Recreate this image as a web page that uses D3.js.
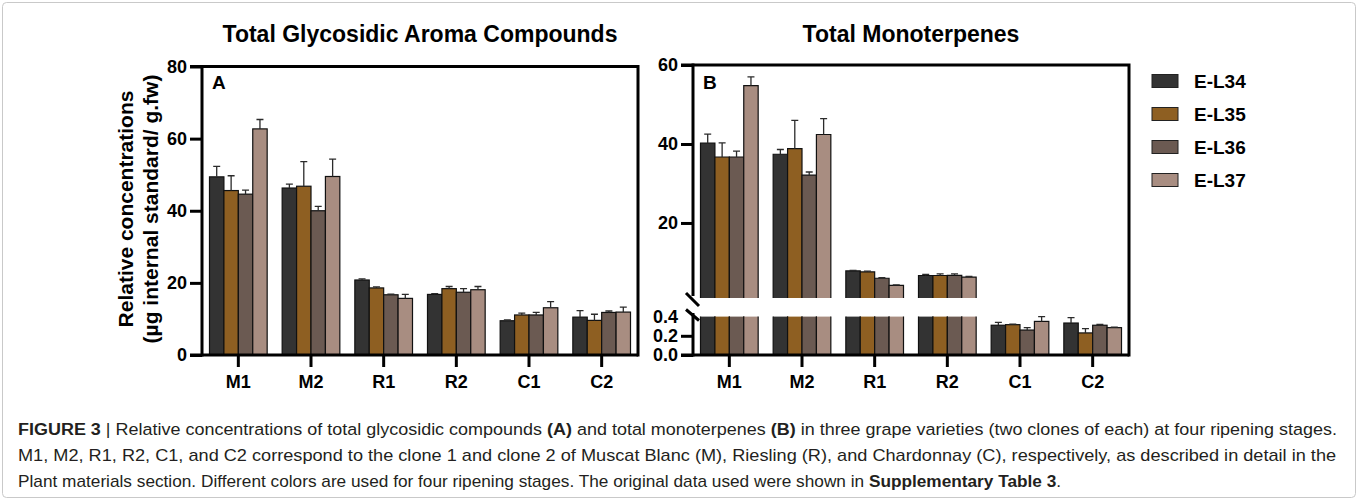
<!DOCTYPE html>
<html>
<head>
<meta charset="utf-8">
<script src="https://cdn.jsdelivr.net/npm/d3@7/dist/d3.min.js"></script>
<style>
  html, body { margin: 0; padding: 0; background: #fff; }
  svg { display: block; }
  text { font-family: "Liberation Sans", Arial, sans-serif; }
</style>
</head>
<body>
<svg id="fig" width="1358" height="500"></svg>
<script>
// Categories (grape clones) and ripening stages
const categories = ["M1", "M2", "R1", "R2", "C1", "C2"];
const stages = ["E-L34", "E-L35", "E-L36", "E-L37"];
const stageColors = ["#333333", "#8e5f22", "#6b5a52", "#a88d81"];

// Panel A: total glycosidic aroma compounds (mean, SD) per stage
const glyL34 = [49.4, 46.3, 20.8, 16.8, 9.5, 10.5];
const glyL34Sd = [2.9, 1.1, 0.3, 0.2, 0.2, 1.8];
const glyL35 = [45.6, 46.8, 18.6, 18.4, 11.1, 9.6];
const glyL35Sd = [4.1, 6.8, 0.3, 0.6, 0.5, 1.7];
const glyL36 = [44.6, 40.0, 16.7, 17.4, 11.1, 11.8];
const glyL36Sd = [1.1, 1.2, 0.2, 1.0, 0.7, 0.4];
const glyL37 = [62.7, 49.5, 15.7, 18.1, 13.1, 11.9];
const glyL37Sd = [2.6, 4.8, 1.1, 0.9, 1.7, 1.4];

// Panel B: total monoterpenes (mean, SD) per stage
const monoL34 = [40.2, 37.4, 7.85, 6.7, 0.31, 0.333];
const monoL34Sd = [2.3, 1.2, 0.15, 0.3, 0.03, 0.057];
const monoL35 = [36.7, 38.8, 7.6, 6.7, 0.316, 0.23];
const monoL35Sd = [3.6, 7.2, 0.2, 0.4, 0.005, 0.045];
const monoL36 = [36.7, 32.1, 6.0, 6.75, 0.26, 0.31];
const monoL36Sd = [1.5, 0.8, 0.15, 0.35, 0.025, 0.01];
const monoL37 = [54.8, 42.4, 4.2, 6.3, 0.35, 0.285];
const monoL37Sd = [2.2, 4.0, 0.1, 0.2, 0.05, 0.005];

// Axis tick values
const ticksA = [0, 20, 40, 60, 80];
const ticksBUpper = [20, 40, 60];
const ticksBLower = [0, 0.2, 0.4];

const legendLabels = stages;
const titleA = "Total Glycosidic Aroma Compounds";
const titleB = "Total Monoterpenes";
const yTitle1 = "Relative concentrations";
const yTitle2 = "(µg internal standard/ g.fw)";

const glyMeans = [glyL34, glyL35, glyL36, glyL37];
const glySds = [glyL34Sd, glyL35Sd, glyL36Sd, glyL37Sd];
const monoMeans = [monoL34, monoL35, monoL36, monoL37];
const monoSds = [monoL34Sd, monoL35Sd, monoL36Sd, monoL37Sd];

function rows(means, sds) {
  const out = [];
  categories.forEach((c, ci) => {
    stages.forEach((s, si) => {
      out.push({ cat: c, stage: s, si, v: means[si][ci], sd: sds[si][ci] });
    });
  });
  return out;
}

const svg = d3.select("#fig");

// Outer figure border
svg.append("rect")
  .attr("x", 2.5).attr("y", 2.5).attr("width", 1353).attr("height", 495)
  .attr("rx", 4).attr("fill", "none").attr("stroke", "#c9c9c9").attr("stroke-width", 1);

const baseY = 355;
const AX_W = 3;

function styleAxis(g) {
  g.selectAll("path.domain").attr("stroke", "#000").attr("stroke-width", AX_W);
  g.selectAll(".tick line").attr("stroke", "#000").attr("stroke-width", AX_W);
  g.selectAll(".tick text")
    .attr("fill", "#000")
    .style("font-family", "'Liberation Sans', Arial, sans-serif")
    .style("font-weight", "bold")
    .style("font-size", "18px");
}

function drawFrameCommon(left, right, top, xScale, title, letter) {
  // top and right frame lines
  svg.append("path")
    .attr("d", `M${left - 12},${top} H${right} V${baseY + 1.5}`)
    .attr("fill", "none").attr("stroke", "#000").attr("stroke-width", AX_W);
  // x axis
  const gx = svg.append("g")
    .attr("transform", `translate(0,${baseY})`)
    .call(d3.axisBottom(xScale).tickSize(12).tickSizeOuter(0).tickPadding(8));
  styleAxis(gx);
  gx.select("path.domain").attr("d", `M${left - 12},0H${right}`);
  // title
  svg.append("text")
    .attr("x", (left + right) / 2).attr("y", 42)
    .attr("text-anchor", "middle")
    .style("font-weight", "bold").style("font-size", "23px")
    .text(title);
  // panel letter
  svg.append("text")
    .attr("x", left + 10).attr("y", 89)
    .style("font-weight", "bold").style("font-size", "19px")
    .text(letter);
}

function errorBar(g, x, yBar, yTop) {
  g.append("path")
    .attr("d", `M${x},${yBar} V${yTop} M${x - 3.5},${yTop} H${x + 3.5}`)
    .attr("fill", "none").attr("stroke", "#2b2b2b").attr("stroke-width", 1.3);
}

// ---------- Panel A ----------
{
  const left = 202, right = 638;
  const x0 = d3.scaleBand().domain(categories).range([left, right]).padding(0);
  const x1 = d3.scaleBand().domain(stages).range([0, x0.bandwidth()])
    .paddingInner(0).paddingOuter(0.52);
  const y = d3.scaleLinear().domain([0, 80]).range([baseY, 66.5]);
  const color = d3.scaleOrdinal().domain(stages).range(stageColors);

  const data = rows(glyMeans, glySds);
  const g = svg.append("g");
  data.forEach(d => {
    const bx = x0(d.cat) + x1(d.stage);
    g.append("rect")
      .attr("x", bx).attr("y", y(d.v))
      .attr("width", x1.bandwidth()).attr("height", baseY - y(d.v))
      .attr("fill", color(d.stage)).attr("stroke", "#111").attr("stroke-width", 1.2);
  });
  data.forEach(d => {
    const cx = x0(d.cat) + x1(d.stage) + x1.bandwidth() / 2;
    errorBar(g, cx, y(d.v), y(d.v + d.sd));
  });

  const gy = svg.append("g")
    .attr("transform", `translate(${left},0)`)
    .call(d3.axisLeft(y).tickValues(ticksA).tickSize(12).tickSizeOuter(0).tickPadding(3));
  styleAxis(gy);
  gy.select("path.domain").attr("d", `M0,${y(80) - 1.5}V${baseY + 1.5}`);

  drawFrameCommon(left, right, y(80), x0, titleA, "A");

  // y axis title (two lines)
  svg.append("text")
    .attr("transform", "translate(125.5,209) rotate(-90)")
    .attr("text-anchor", "middle").attr("dy", "0.35em")
    .style("font-weight", "bold").style("font-size", "21px")
    .text(yTitle1);
  svg.append("text")
    .attr("transform", "translate(151,209) rotate(-90)")
    .attr("text-anchor", "middle").attr("dy", "0.35em")
    .style("font-weight", "bold").style("font-size", "21px")
    .text(yTitle2);
}

// ---------- Panel B (broken y axis) ----------
{
  const left = 693, right = 1129;
  const x0 = d3.scaleBand().domain(categories).range([left, right]).padding(0);
  const x1 = d3.scaleBand().domain(stages).range([0, x0.bandwidth()])
    .paddingInner(0).paddingOuter(0.52);
  const yHi = d3.scaleLinear().domain([1, 60]).range([298, 65]);
  const yLo = d3.scaleLinear().domain([0, 0.4]).range([baseY, 316.6]);
  const color = d3.scaleOrdinal().domain(stages).range(stageColors);
  const loMax = 0.4, hiMin = 1;

  const data = rows(monoMeans, monoSds);
  const g = svg.append("g");
  data.forEach(d => {
    const bx = x0(d.cat) + x1(d.stage);
    const w = x1.bandwidth();
    if (d.v > loMax) {
      const yl = yLo(loMax);
      g.append("rect").attr("x", bx).attr("y", yl).attr("width", w).attr("height", baseY - yl)
        .attr("fill", color(d.stage));
      g.append("path").attr("d", `M${bx},${baseY}V${yl}M${bx + w},${yl}V${baseY}`)
        .attr("fill", "none").attr("stroke", "#111").attr("stroke-width", 1.2);
      const yt = yHi(d.v), yb = yHi(hiMin);
      g.append("rect").attr("x", bx).attr("y", yt).attr("width", w).attr("height", yb - yt)
        .attr("fill", color(d.stage));
      g.append("path").attr("d", `M${bx},${yb}V${yt}H${bx + w}V${yb}`)
        .attr("fill", "none").attr("stroke", "#111").attr("stroke-width", 1.2);
    } else {
      g.append("rect").attr("x", bx).attr("y", yLo(d.v))
        .attr("width", w).attr("height", baseY - yLo(d.v))
        .attr("fill", color(d.stage)).attr("stroke", "#111").attr("stroke-width", 1.2);
    }
  });
  data.forEach(d => {
    const cx = x0(d.cat) + x1(d.stage) + x1.bandwidth() / 2;
    const s = d.v > loMax ? yHi : yLo;
    errorBar(g, cx, s(d.v), s(d.v + d.sd));
  });

  const gyHi = svg.append("g")
    .attr("transform", `translate(${left},0)`)
    .call(d3.axisLeft(yHi).tickValues(ticksBUpper).tickSize(12).tickSizeOuter(0).tickPadding(3));
  styleAxis(gyHi);
  gyHi.select("path.domain").attr("d", `M0,${yHi(60) - 1.5}V${296}`);

  const gyLo = svg.append("g")
    .attr("transform", `translate(${left},0)`)
    .call(d3.axisLeft(yLo).tickValues(ticksBLower).tickFormat(d3.format(".1f"))
      .tickSize(12).tickSizeOuter(0).tickPadding(3));
  styleAxis(gyLo);
  gyLo.select("path.domain").attr("d", `M0,313V${baseY + 1.5}`);
  gyLo.selectAll(".tick").filter(d => d === 0.4).select("line").remove();

  // break marks on the y axis
  svg.append("path")
    .attr("d", `M${left - 7},293 L${left + 6},306 M${left - 7},309.5 L${left + 6},320.5`)
    .attr("fill", "none").attr("stroke", "#000").attr("stroke-width", AX_W);

  drawFrameCommon(left, right, yHi(60), x0, titleB, "B");
}

// ---------- Legend ----------
{
  const lg = svg.append("g");
  const color = d3.scaleOrdinal().domain(stages).range(stageColors);
  const ly = d3.scalePoint().domain(legendLabels).range([81, 180]);
  legendLabels.forEach(s => {
    lg.append("rect")
      .attr("x", 1152).attr("y", ly(s) - 6.5).attr("width", 26).attr("height", 13)
      .attr("fill", color(s)).attr("stroke", "#222").attr("stroke-width", 1);
    lg.append("text")
      .attr("x", 1194).attr("y", ly(s)).attr("dy", "0.36em")
      .style("font-weight", "bold").style("font-size", "19px")
      .text(s);
  });
}

// ---------- Caption (condensed horizontally to its line width) ----------
{
  const cap = svg.append("g")
    .style("font-family", "'Liberation Sans', Arial, sans-serif")
    .style("font-size", "17px").attr("fill", "#231f20");
  const lines = [
    { y: 435, len: 1320, parts: [
      ["FIGURE 3", true], [" | Relative concentrations of total glycosidic compounds ", false], ["(A)", true],
      [" and total monoterpenes ", false], ["(B)", true],
      [" in three grape varieties (two clones of each) at four ripening stages.", false]] },
    { y: 461, len: 1319, parts: [
      ["M1, M2, R1, R2, C1, and C2 correspond to the clone 1 and clone 2 of Muscat Blanc (M), Riesling (R), and Chardonnay (C), respectively, as described in detail in the", false]] },
    { y: 487, len: 1044, parts: [
      ["Plant materials section. Different colors are used for four ripening stages. The original data used were shown in ", false],
      ["Supplementary Table 3", true], [".", false]] }
  ];
  lines.forEach(l => {
    const lineG = cap.append("g");
    const t = lineG.append("text").attr("x", 0).attr("y", 0);
    l.parts.forEach(([s, b]) => {
      t.append("tspan").style("font-weight", b ? "bold" : "normal").text(s);
    });
    const w = t.node().getComputedTextLength();
    lineG.attr("transform", `translate(18,${l.y}) scale(${l.len / w},1)`);
  });
}
</script>
</body>
</html>
